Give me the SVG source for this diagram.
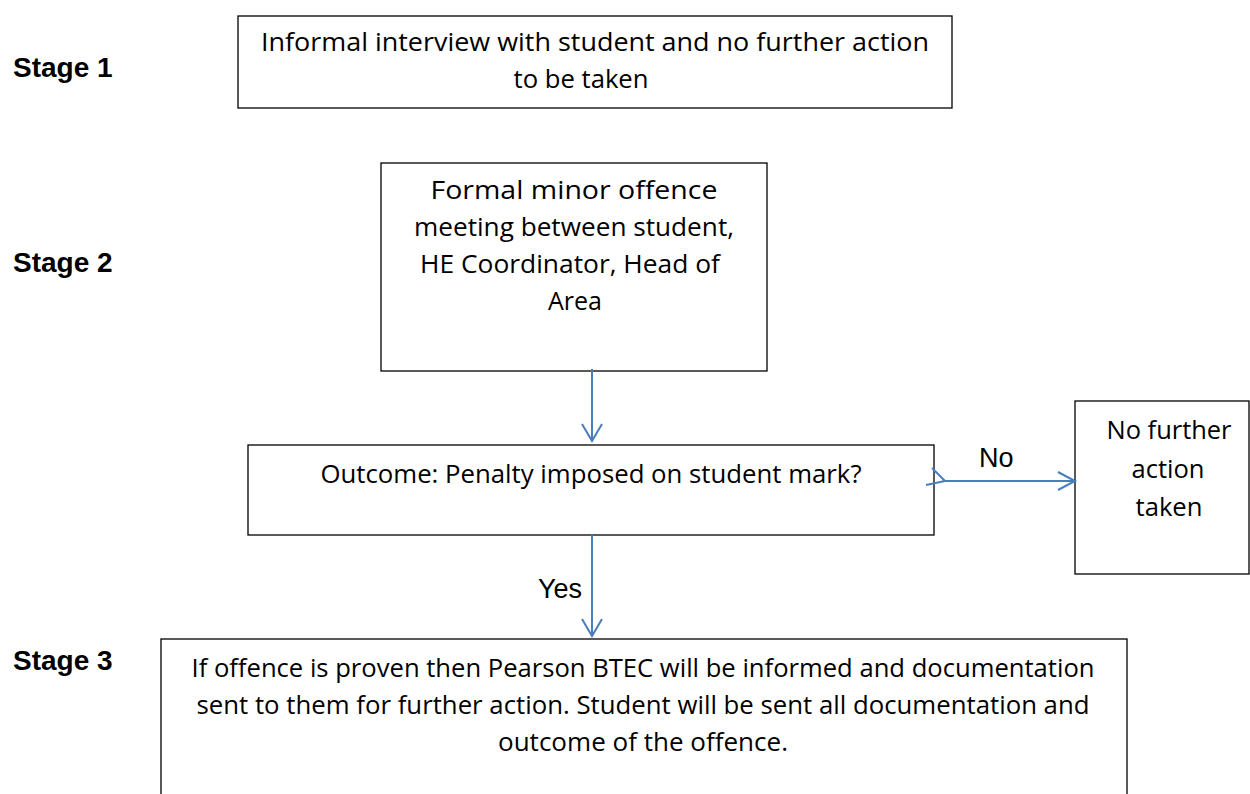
<svg xmlns="http://www.w3.org/2000/svg" width="1250" height="794" viewBox="0 0 1250 794">
<style>
.box{fill:#fff;stroke:#000;stroke-width:1.3}
.t{font-family:"Open Sans","Liberation Sans",sans-serif;font-size:25px;fill:#000;text-anchor:middle}
.stage{font-family:"Liberation Sans",Arial,sans-serif;font-size:28px;font-weight:bold;fill:#000}
.lbl{font-family:"Liberation Sans",Arial,sans-serif;font-size:27px;fill:#000}
.conn{fill:none;stroke:#4a7ebb;stroke-width:2}
</style>
<rect width="1250" height="794" fill="#fff"/>
<text class="stage" x="13" y="77">Stage 1</text>
<text class="stage" x="13" y="272">Stage 2</text>
<text class="stage" x="13" y="670">Stage 3</text>
<g id="stage1">
<rect class="box" x="238" y="16" width="714" height="92"/>
<text class="t" x="595" y="51" textLength="668" lengthAdjust="spacingAndGlyphs">Informal interview with student and no further action</text>
<text class="t" x="581" y="88" textLength="135" lengthAdjust="spacingAndGlyphs">to be taken</text>
</g>
<g id="stage2">
<rect class="box" x="381" y="163" width="386" height="208"/>
<text class="t" x="574" y="199" textLength="287" lengthAdjust="spacingAndGlyphs">Formal minor offence</text>
<text class="t" x="574" y="236" textLength="320" lengthAdjust="spacingAndGlyphs">meeting between student,</text>
<text class="t" x="570" y="273" textLength="300" lengthAdjust="spacingAndGlyphs">HE Coordinator, Head of</text>
<text class="t" x="575" y="310" textLength="54" lengthAdjust="spacingAndGlyphs">Area</text>
</g>
<g id="outcome">
<rect class="box" x="248" y="445" width="686" height="90"/>
<text class="t" x="591" y="483" textLength="541" lengthAdjust="spacingAndGlyphs">Outcome: Penalty imposed on student mark?</text>
</g>
<g id="nofurther">
<rect class="box" x="1075" y="401" width="174" height="173"/>
<text class="t" x="1169" y="439" textLength="125" lengthAdjust="spacingAndGlyphs">No further</text>
<text class="t" x="1168" y="478" textLength="73" lengthAdjust="spacingAndGlyphs">action</text>
<text class="t" x="1169" y="516" textLength="67" lengthAdjust="spacingAndGlyphs">taken</text>
</g>
<g id="stage3">
<rect class="box" x="161" y="639" width="966" height="170"/>
<text class="t" x="643" y="677" textLength="903" lengthAdjust="spacingAndGlyphs">If offence is proven then Pearson BTEC will be informed and documentation</text>
<text class="t" x="643" y="714" textLength="893" lengthAdjust="spacingAndGlyphs">sent to them for further action. Student will be sent all documentation and</text>
<text class="t" x="643" y="751" textLength="290" lengthAdjust="spacingAndGlyphs">outcome of the offence.</text>
</g>
<g id="connectors">
<path class="conn" d="M592 369 V441 M582 424 L592 441 L602 424"/>
<path class="conn" d="M592 535 V636 M582 619 L592 636 L602 619"/>
<path class="conn" d="M926 485 L945 481 L1075 481 M932 468 L945 481 M1058 472 L1075 481 L1058 490"/>
<text class="lbl" x="979" y="467">No</text>
<text class="lbl" x="538" y="598">Yes</text>
</g>
</svg>
